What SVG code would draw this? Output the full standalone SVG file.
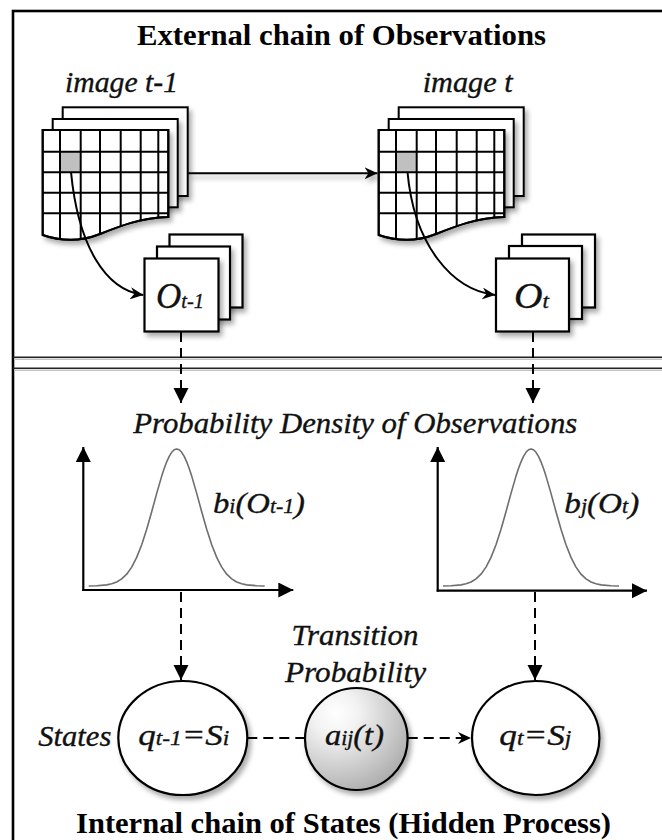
<svg xmlns="http://www.w3.org/2000/svg" xmlns:xlink="http://www.w3.org/1999/xlink" width="662" height="840" viewBox="0 0 662 840">
<style>
.sheet{fill:#fff;stroke:#000;stroke-width:2}
.grid{stroke:#000;stroke-width:2;fill:none}
.box{fill:#fff;stroke:#000;stroke-width:2.2}
.title{font-family:"Liberation Serif","Times New Roman",serif;font-weight:bold;font-size:30px;fill:#000}
.it{font-family:"Liberation Serif","Times New Roman",serif;font-style:italic;font-size:30px;fill:#111;stroke:#111;stroke-width:0.35}
.dash{stroke:#000;stroke-width:2;stroke-dasharray:10 6;fill:none}
.solid{stroke:#000;stroke-width:2;fill:none}
.axis{stroke:#000;stroke-width:2.2;fill:none}
.gauss{stroke:#6e6e6e;stroke-width:1.6;fill:none;stroke-linejoin:round}
.ell{fill:#fff;stroke:#000;stroke-width:2.2}
.sep{stroke:#222;stroke-width:1.6}
.seps{stroke:#c4c4c4;stroke-width:1.5}
.sub{font-size:20px}
.big{font-size:36px}
.bsub{font-size:21px}
</style>
<defs>
<filter id="sh" filterUnits="userSpaceOnUse" x="0" y="0" width="662" height="840"><feDropShadow dx="3" dy="4" stdDeviation="2.5" flood-color="#000" flood-opacity="0.33"/></filter>
<marker id="tri" markerUnits="userSpaceOnUse" markerWidth="16" markerHeight="16" refX="15" refY="7.5" orient="auto"><path d="M0,0 L15,7.5 L0,15 Z" fill="#000"/></marker>
<marker id="stealth" markerUnits="userSpaceOnUse" markerWidth="14" markerHeight="12" refX="13" refY="6" orient="auto"><path d="M0,0 L13,6 L0,12 L4,6 Z" fill="#000"/></marker>
<radialGradient id="gg" cx="0.3" cy="0.25" r="0.9"><stop offset="0" stop-color="#ffffff"/><stop offset="0.25" stop-color="#f2f2f2"/><stop offset="1" stop-color="#a3a3a3"/></radialGradient>
<clipPath id="wave"><path d="M42.7,130 H168.3 V217 C140,218 120,226 100,234 C80,242 60,241 42.7,235 Z"/></clipPath>
<path id="gauss" class="gauss" d="M-88,586 L-80,585.7 L-70,584.9 L-65,583.8 L-60,582 L-55,578.9 L-50,574.2 L-45,567.1 L-40,557.4 L-35,544.7 L-30,529.2 L-25,511.7 L-20,493.4 L-15,476.1 L-12.5,468.5 L-10,461.8 L-7.5,456.3 L-5,452.3 L-2.5,449.8 L0,449 L2.5,449.8 L5,452.3 L7.5,456.3 L10,461.8 L12.5,468.5 L15,476.1 L20,493.4 L25,511.7 L30,529.2 L35,544.7 L40,557.4 L45,567.1 L50,574.2 L55,578.9 L60,582 L65,583.8 L70,584.9 L80,585.7 L88,586"/>
<g id="imgsheet">
<rect class="sheet" x="62.7" y="107.3" width="125" height="88.7" filter="url(#sh)"/>
<rect class="sheet" x="52.7" y="119" width="125" height="88.3" filter="url(#sh)"/>
<path class="sheet" d="M42.7,130 H168.3 V217 C140,218 120,226 100,234 C80,242 60,241 42.7,235 Z" filter="url(#sh)"/>
<g clip-path="url(#wave)">
<rect x="60" y="151.7" width="20.7" height="20.6" fill="#c0c0c0"/>
<path class="grid" d="M60,130V245 M80.7,130V245 M100,130V245 M120.7,130V245 M140.7,130V245 M158.3,130V245 M42.7,151.7H168.3 M42.7,172.3H168.3 M42.7,192.7H168.3 M42.7,213.3H168.3"/>
</g>
<path d="M42.7,130 H168.3 V217 C140,218 120,226 100,234 C80,242 60,241 42.7,235 Z" fill="none" stroke="#000" stroke-width="2"/>
</g>
</defs>

<g id="border">
<rect x="13" y="11" width="662" height="840" fill="none" stroke="#000" stroke-width="2.6"/>
<line class="seps" x1="14" y1="359.3" x2="662" y2="359.3"/>
<line class="seps" x1="14" y1="370.3" x2="662" y2="370.3"/>
<line class="sep" x1="13" y1="357.3" x2="662" y2="357.3"/>
<line class="sep" x1="13" y1="368.3" x2="662" y2="368.3"/>
</g>

<g id="title-top"><text class="title" x="137" y="45" textLength="409" lengthAdjust="spacingAndGlyphs">External chain of Observations</text></g>

<g id="image-t1">
<text class="it" x="65" y="92" textLength="113" lengthAdjust="spacingAndGlyphs">image t-1</text>
<use href="#imgsheet" xlink:href="#imgsheet"/>
</g>
<g id="image-t">
<text class="it" x="422.7" y="92" textLength="90" lengthAdjust="spacingAndGlyphs">image t</text>
<use href="#imgsheet" xlink:href="#imgsheet" transform="translate(336,0)"/>
</g>

<g id="obs-t1">
<rect class="box" x="169.5" y="234.5" width="73" height="73" filter="url(#sh)"/>
<rect class="box" x="157" y="246.5" width="73" height="73" filter="url(#sh)"/>
<rect class="box" x="144.5" y="258.5" width="74" height="73" filter="url(#sh)"/>
<text class="it big" x="156" y="308" textLength="48" lengthAdjust="spacingAndGlyphs">O<tspan class="bsub">t-1</tspan></text>
</g>
<g id="obs-t">
<rect class="box" x="522" y="234.5" width="73" height="73" filter="url(#sh)"/>
<rect class="box" x="509" y="246" width="73" height="73" filter="url(#sh)"/>
<rect class="box" x="496" y="258.5" width="73" height="73" filter="url(#sh)"/>
<text class="it big" x="514" y="308" textLength="35" lengthAdjust="spacingAndGlyphs">O<tspan class="bsub">t</tspan></text>
</g>

<g id="pdf-title"><text class="it" x="133.3" y="433" textLength="444" lengthAdjust="spacingAndGlyphs">Probability Density of Observations</text></g>

<g id="pdf-t1">
<line class="axis" x1="83.3" y1="591" x2="83.3" y2="447" marker-end="url(#tri)"/>
<line class="axis" x1="82.3" y1="590" x2="293.3" y2="590" marker-end="url(#tri)"/>
<use href="#gauss" xlink:href="#gauss" transform="translate(176.7,0)"/>
<text class="it" x="213" y="513" textLength="92" lengthAdjust="spacingAndGlyphs">b<tspan class="sub">i</tspan>(O<tspan class="sub">t-1</tspan>)</text>
</g>
<g id="pdf-t">
<line class="axis" x1="437.7" y1="591.7" x2="437.7" y2="447" marker-end="url(#tri)"/>
<line class="axis" x1="436.7" y1="590.7" x2="647" y2="590.7" marker-end="url(#tri)"/>
<use href="#gauss" xlink:href="#gauss" transform="translate(531,0)"/>
<text class="it" x="564.3" y="513" textLength="75" lengthAdjust="spacingAndGlyphs">b<tspan class="sub">j</tspan>(O<tspan class="sub">t</tspan>)</text>
</g>

<g id="state-i">
<text class="it" x="38.3" y="746" textLength="73" lengthAdjust="spacingAndGlyphs">States</text>
<ellipse class="ell" cx="182.8" cy="738" rx="64.5" ry="57" filter="url(#sh)"/>
<text class="it" x="138.3" y="745" textLength="91" lengthAdjust="spacingAndGlyphs">q<tspan class="sub">t-1</tspan>=S<tspan class="sub">i</tspan></text>
</g>
<g id="transition">
<text class="it" x="355" y="645" text-anchor="middle" textLength="127" lengthAdjust="spacingAndGlyphs">Transition</text>
<text class="it" x="355.5" y="682" text-anchor="middle" textLength="141" lengthAdjust="spacingAndGlyphs">Probability</text>
<ellipse cx="356.3" cy="739" rx="51.3" ry="51" fill="url(#gg)" stroke="#000" stroke-width="2.2" filter="url(#sh)"/>
<text class="it" x="325" y="745" textLength="59" lengthAdjust="spacingAndGlyphs">a<tspan class="sub">ij</tspan>(t)</text>
</g>
<g id="state-j">
<ellipse class="ell" cx="535.7" cy="738" rx="63.7" ry="57" filter="url(#sh)"/>
<text class="it" x="499.3" y="745" textLength="72" lengthAdjust="spacingAndGlyphs">q<tspan class="sub">t</tspan>=S<tspan class="sub">j</tspan></text>
</g>

<g id="title-bottom"><text class="title" x="76" y="833" textLength="535" lengthAdjust="spacingAndGlyphs">Internal chain of States (Hidden Process)</text></g>

<g id="connectors">
<line class="solid" x1="188" y1="173.3" x2="377.5" y2="173.3" marker-end="url(#stealth)" filter="url(#sh)"/>
<path class="solid" d="M71,172 C78,245 105,290 143.3,295" marker-end="url(#stealth)"/>
<path class="solid" d="M407.5,172 C414,245 452,290 495.3,295" marker-end="url(#stealth)"/>
<line class="dash" x1="181" y1="332" x2="181" y2="403" marker-end="url(#tri)"/>
<line class="dash" x1="533" y1="332" x2="533" y2="403" marker-end="url(#tri)"/>
<line class="dash" x1="181" y1="592" x2="181" y2="680" marker-end="url(#tri)"/>
<line class="dash" x1="535" y1="592" x2="535" y2="680" marker-end="url(#tri)"/>
<line class="dash" x1="247.3" y1="738" x2="305" y2="738"/>
<line class="dash" x1="407.7" y1="738" x2="471" y2="738" marker-end="url(#stealth)"/>
</g>
</svg>
